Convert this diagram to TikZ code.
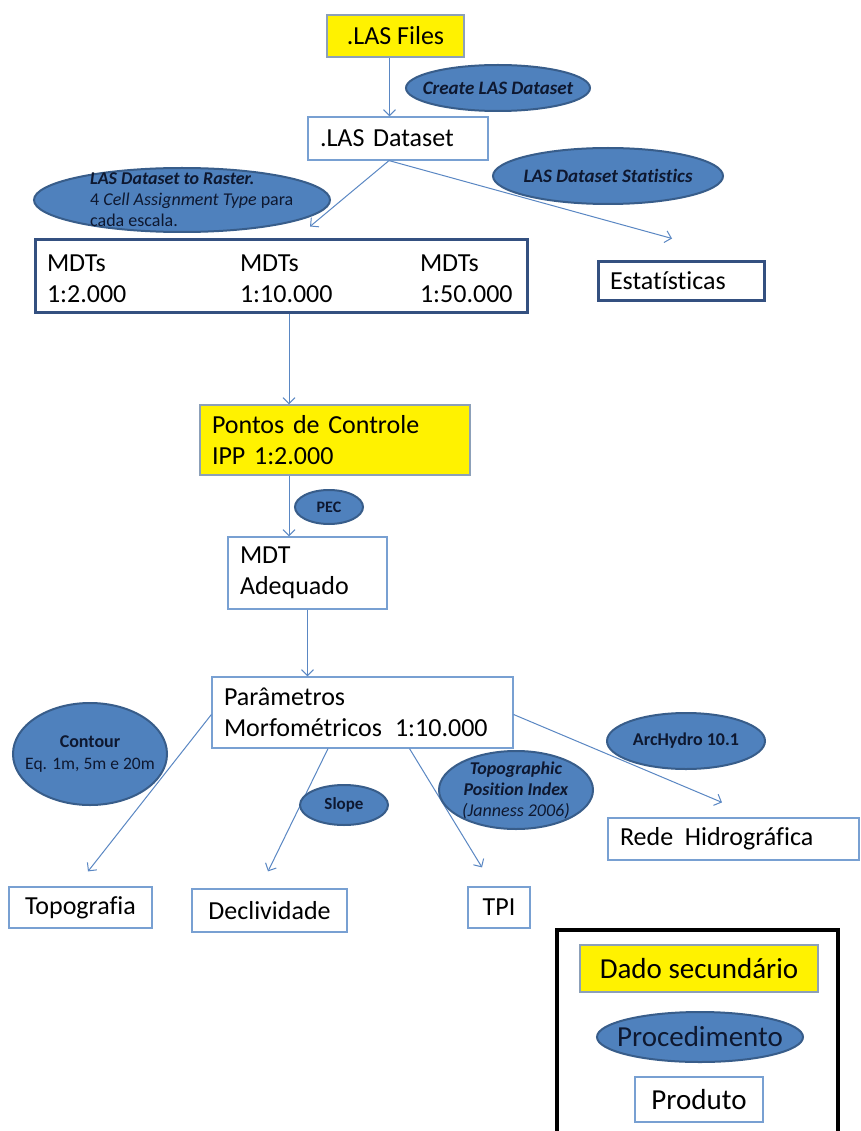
\documentclass[tikz,border=0pt]{standalone}
\usepackage{fontspec}
\setmainfont{Carlito}[Ligatures=NoCommon]
\usetikzlibrary{arrows.meta,shapes.geometric,calc}
\definecolor{ellfill}{RGB}{79,129,189}
\definecolor{elldraw}{RGB}{56,93,138}
\definecolor{elltext}{RGB}{14,24,48}
\definecolor{thinblue}{RGB}{120,160,210}
\definecolor{darkblue}{RGB}{52,80,128}
\definecolor{yelbord}{RGB}{140,160,185}
\definecolor{arrowc}{RGB}{90,135,195}
\newcommand\boxfont{\fontsize{26}{31}\selectfont}
\newcommand\ellfont{\fontsize{19}{21}\selectfont}
\newcommand\legfont{\fontsize{29}{34}\selectfont}
\tikzset{
  box/.style={draw=thinblue, line width=1.2pt, fill=white, inner xsep=12pt, inner ysep=0pt, font=\boxfont, text=black, align=left},
  ybox/.style={box, fill=yellow, draw=yelbord},
  tbox/.style={box, draw=darkblue, line width=3pt},
  ell/.style={ellipse, draw=elldraw, line width=2pt, fill=ellfill, inner sep=0pt},
  etext/.style={text=elltext, font=\ellfont, align=center, inner sep=0pt},
  conn/.style={draw=arrowc, line width=1pt, -{Straight Barb[length=6pt,width=12pt]}},
}
\begin{document}
\begin{tikzpicture}[x=1pt,y=-1pt]
\useasboundingbox (0,0) rectangle (860,1131);
\fill[white] (0,0) rectangle (860,1131);
\clip (0,0) rectangle (860,1131);

% boxes
\node[ybox, minimum width=137pt, minimum height=42pt] (lasfiles) at (395.5,36) {.LAS Files};
\node[box, minimum width=180pt, minimum height=43pt, text width=156pt] (lasds) at (398,138.5) {.LAS Dataset};
\node[tbox, minimum width=492pt, minimum height=72pt, text width=468pt] (mdts) at (281,276)
  {\raisebox{-5pt}[\height][\depth]{\renewcommand\arraystretch{1}\begin{tabular}{@{}p{193pt}@{}p{180pt}@{}l@{}}MDTs&MDTs&MDTs\\1:2.000&1:10.000&1:50.000\end{tabular}}};
\node[tbox, minimum width=166pt, minimum height=38pt, text width=142pt] (estat) at (681,281) {Estatísticas};
\node[ybox, minimum width=270pt, minimum height=70pt, text width=246pt] (pontos) at (335,440) {Pontos de Controle\\IPP 1:2.000};
\node[box, minimum width=159pt, minimum height=72pt, text width=135pt] (mdtadeq) at (307.5,573) {MDT\\Adequado};
\node[box, minimum width=301pt, minimum height=71pt, text width=277pt] (param) at (362.5,712.5) {Parâmetros\\Morfométricos\hspace{0.5em}1:10.000};
\node[box, minimum width=143pt, minimum height=41pt] (topo) at (80.5,907.5) {Topografia};
\node[box, minimum width=155pt, minimum height=43pt] (decl) at (269.5,910.5) {Declividade};
\node[box, minimum width=62pt, minimum height=41pt] (tpi) at (499,907.5) {TPI};
\node[box, minimum width=251pt, minimum height=42pt, text width=227pt] (rede) at (733.5,839) {Rede\hspace{0.45em}Hidrográfica};

% connector anchor points
\coordinate (a0) at ($(lasfiles.south)+(-6,0)$);
\coordinate (a1) at ($(lasds.south)+(-9,0)$);
\coordinate (a2) at ($(mdts.south)+(8,0)$);
\coordinate (a3) at ($(pontos.south)+(-46,0)$);

% connectors
\draw[conn] (a0) -- (a0 |- lasds.north);
\draw[conn] (a1) -- ($(mdts.north)+(29,-12)$);
\draw[conn] (a1) -- ($(estat.north)+(-9,-22)$);
\draw[conn] (a2) -- (a2 |- pontos.north);
\draw[conn] (a3) -- (a3 |- mdtadeq.north);
\draw[conn] (mdtadeq.south) -- (mdtadeq.south |- param.north);
\draw[conn] ($(param.west)+(0,2)$) -- ($(topo.north)+(7.5,-15)$);
\draw[conn] ($(param.south)+(-34.5,0)$) -- ($(decl.north)+(-1.5,-17)$);
\draw[conn] ($(param.south)+(47,0)$) -- ($(tpi.north)+(-17,-19)$);
\draw[conn] ($(param.east)+(0,2)$) -- ($(rede.north)+(-11.5,-15)$);

% procedures
\node[ell, minimum width=184pt, minimum height=46pt] (create) at (498,88) {};
\node[etext] (createt) at (create) {\textbf{\textit{Create LAS Dataset}}};
\node[ell, minimum width=230pt, minimum height=56pt] (lasstat) at (608,176) {};
\node[etext] (lasstatt) at (lasstat) {\textbf{\textit{LAS Dataset Statistics}}};
\node[ell, minimum width=296pt, minimum height=64pt] (toraster) at (182,200) {};
\node[etext, align=left, anchor=west, font=\fontsize{18}{21}\selectfont] (torastert) at ($(toraster.center)+(-92,0)$)
  {\textbf{\textit{LAS Dataset to Raster.}}\\4 \textit{Cell Assignment Type} para\\cada escala.};
\node[ell, minimum width=68pt, minimum height=34pt] (pec) at (329,507) {};
\node[etext, font=\fontsize{16}{18}\selectfont] (pect) at (pec) {\textbf{PEC}};
\node[ell, minimum width=154pt, minimum height=102pt] (contour) at (90,754) {};
\node[etext, font=\fontsize{18}{22}\selectfont] (contourt) at (contour) {\textbf{Contour}\\{\fontsize{17.5}{22}\selectfont Eq. 1m, 5m e 20m}};
\node[ell, minimum width=88pt, minimum height=40pt] (slope) at (344,805) {};
\node[etext, font=\fontsize{17}{19}\selectfont] (slopet) at (slope) {\textbf{Slope}};
\node[ell, minimum width=154pt, minimum height=78pt] (tpiell) at (516,790) {};
\node[etext, font=\fontsize{18}{21}\selectfont] (tpiellt) at (tpiell) {\textbf{\textit{Topographic}}\\\textbf{\textit{Position Index}}\\\textit{(Janness 2006)}};
\node[ell, minimum width=158pt, minimum height=56pt] (archydro) at (686,741) {};
\node[etext, font=\fontsize{18}{20}\selectfont] (archydrot) at (archydro) {\textbf{ArcHydro 10.1}};

% legend
\node[draw=black, line width=3.5pt, minimum width=281pt, minimum height=215pt, inner sep=0pt] (legend) at (697.5,1037.5) {};
\node[ybox, font=\legfont, minimum width=238pt, minimum height=47pt] (dado) at (699,968.5) {Dado secundário};
\node[ell, minimum width=206pt, minimum height=50pt] (proced) at (700,1037) {};
\node[etext, font=\legfont] (procedt) at (proced) {Procedimento};
\node[box, font=\legfont, minimum width=128pt, minimum height=45pt] (produto) at (699,1099.5) {Produto};
\end{tikzpicture}
\end{document}
